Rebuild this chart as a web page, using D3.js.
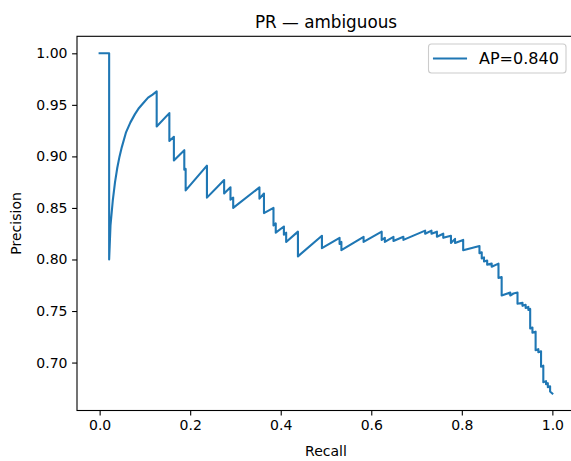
<!DOCTYPE html>
<html>
<head>
<meta charset="utf-8">
<script src="https://cdn.jsdelivr.net/npm/d3@7"></script>
<style>
  html, body { margin: 0; padding: 0; background: #fff; }
  svg { display: block; font-family: "DejaVu Sans", sans-serif; }
</style>
</head>
<body>
<svg id="chart" width="571" height="461"></svg>
<script>
// ---- data ----
const titleText = "PR — ambiguous";
const xLabel = "Recall";
const yLabel = "Precision";
const legendLabel = "AP=0.840";
const xTicks = [0.0, 0.2, 0.4, 0.6, 0.8, 1.0];
const yTicks = [0.70, 0.75, 0.80, 0.85, 0.90, 0.95, 1.00];

const recall = [
  0, 0.021, 0.021, 0.024, 0.029, 0.034, 0.039, 0.044, 0.049, 0.058, 0.068, 0.078, 0.087, 0.097, 0.107, 0.117, 0.126,
  0.126, 0.154, 0.154, 0.164, 0.164, 0.187, 0.187, 0.190, 0.190, 0.237, 0.237, 0.275, 0.275, 0.289, 0.289, 0.295, 0.295,
  0.353, 0.353, 0.363, 0.363, 0.384, 0.384, 0.389, 0.389, 0.407, 0.407, 0.412, 0.412, 0.438, 0.438, 0.491, 0.491,
  0.530, 0.530, 0.534, 0.534, 0.583, 0.583, 0.623, 0.623, 0.630, 0.630, 0.649, 0.649, 0.671, 0.671, 0.719, 0.719,
  0.733, 0.733, 0.745, 0.745, 0.759, 0.759, 0.776, 0.776, 0.785, 0.785, 0.803, 0.803, 0.839, 0.839, 0.844, 0.844,
  0.849, 0.849, 0.856, 0.856, 0.866, 0.866, 0.881, 0.881, 0.888, 0.888, 0.907, 0.907, 0.914, 0.923, 0.923,
  0.934, 0.934, 0.941, 0.941, 0.947, 0.947, 0.951, 0.951, 0.956, 0.956, 0.963, 0.963, 0.969, 0.969, 0.975, 0.975,
  0.980, 0.980, 0.986, 0.986, 0.990, 0.990, 0.995, 0.995, 1.000
];
const precision = [
  1.000, 1.000, 0.800, 0.833, 0.857, 0.875, 0.889, 0.900, 0.909, 0.923, 0.933, 0.941, 0.947, 0.952, 0.957, 0.960, 0.963,
  0.929, 0.942, 0.915, 0.919, 0.896, 0.906, 0.887, 0.888, 0.867, 0.891, 0.860, 0.877, 0.864, 0.870, 0.858, 0.860, 0.850,
  0.870, 0.859, 0.864, 0.845, 0.850, 0.833, 0.835, 0.826, 0.832, 0.824, 0.826, 0.817, 0.827, 0.803, 0.823, 0.811,
  0.821, 0.815, 0.817, 0.809, 0.822, 0.817, 0.827, 0.819, 0.821, 0.817, 0.822, 0.818, 0.822, 0.819, 0.828, 0.825,
  0.828, 0.825, 0.827, 0.822, 0.825, 0.821, 0.823, 0.816, 0.820, 0.816, 0.819, 0.809, 0.813, 0.806, 0.807, 0.801,
  0.802, 0.798, 0.799, 0.795, 0.796, 0.793, 0.796, 0.782, 0.783, 0.765, 0.768, 0.765, 0.767, 0.768, 0.757,
  0.758, 0.755, 0.756, 0.753, 0.754, 0.751, 0.752, 0.733, 0.734, 0.729, 0.730, 0.712, 0.713, 0.710, 0.711, 0.696,
  0.697, 0.681, 0.682, 0.679, 0.680, 0.676, 0.677, 0.672, 0.670
];

// ---- layout ----
const svg = d3.select("#chart");
const plot = { left: 77, right: 575, top: 36.3, bottom: 410.5 };
const color = "#1f77b4";

const x = d3.scaleLinear().domain([-0.05, 1.05]).range([plot.left, plot.right]);
const y = d3.scaleLinear().domain([0.6535, 1.0165]).range([plot.bottom, plot.top]);

const points = recall.map((r, i) => [r, precision[i]]);

// clip
svg.append("defs").append("clipPath").attr("id", "clip")
  .append("rect").attr("x", plot.left).attr("y", plot.top)
  .attr("width", plot.right - plot.left).attr("height", plot.bottom - plot.top);

// curve
svg.append("path")
  .datum(points)
  .attr("clip-path", "url(#clip)")
  .attr("fill", "none")
  .attr("stroke", color)
  .attr("stroke-width", 2.1)
  .attr("stroke-linejoin", "round")
  .attr("stroke-linecap", "square")
  .attr("d", d3.line().x(d => x(d[0])).y(d => y(d[1])));

// axes
const xAxis = d3.axisBottom(x).tickValues(xTicks).tickFormat(d3.format(".1f"))
  .tickSize(4.9).tickPadding(4.6);
const yAxis = d3.axisLeft(y).tickValues(yTicks).tickFormat(d3.format(".2f"))
  .tickSize(4.9).tickPadding(4.6);

const gx = svg.append("g").attr("transform", `translate(0,${plot.bottom})`).call(xAxis);
const gy = svg.append("g").attr("transform", `translate(${plot.left},0)`).call(yAxis);
[gx, gy].forEach(g => {
  g.select(".domain").remove();
  g.selectAll(".tick line").attr("stroke", "#000").attr("stroke-width", 1.1);
  g.selectAll(".tick text").attr("fill", "#000")
    .style("font-family", "'DejaVu Sans', sans-serif").style("font-size", "14px");
});

// spines
svg.append("rect")
  .attr("x", plot.left).attr("y", plot.top)
  .attr("width", plot.right - plot.left).attr("height", plot.bottom - plot.top)
  .attr("fill", "none").attr("stroke", "#000").attr("stroke-width", 1.1);

// title & labels
svg.append("text").attr("x", (plot.left + plot.right) / 2).attr("y", 28)
  .attr("text-anchor", "middle").style("font-size", "16.8px").attr("fill", "#000").text(titleText);
svg.append("text").attr("x", (plot.left + plot.right) / 2).attr("y", 456)
  .attr("text-anchor", "middle").style("font-size", "14px").attr("fill", "#000").text(xLabel);
svg.append("text")
  .attr("transform", `translate(21,${(plot.top + plot.bottom) / 2}) rotate(-90)`)
  .attr("text-anchor", "middle").style("font-size", "14px").attr("fill", "#000").text(yLabel);

// legend
const lg = svg.append("g");
lg.append("rect").attr("x", 428.5).attr("y", 44).attr("width", 137.5).attr("height", 29)
  .attr("rx", 3).attr("ry", 3)
  .attr("fill", "#fff").attr("fill-opacity", 0.8).attr("stroke", "#cccccc").attr("stroke-width", 1.1);
lg.append("line").attr("x1", 434).attr("x2", 466).attr("y1", 58.5).attr("y2", 58.5)
  .attr("stroke", color).attr("stroke-width", 2.1).attr("stroke-linecap", "square");
lg.append("text").attr("x", 479).attr("y", 64).style("font-size", "16px").attr("fill", "#000").text(legendLabel);
</script>
</body>
</html>
